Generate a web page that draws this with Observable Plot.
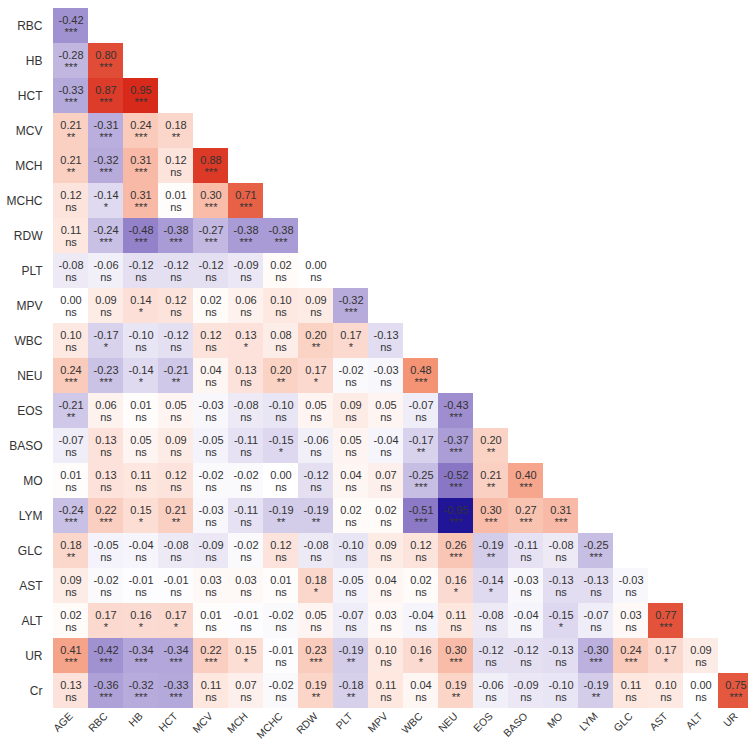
<!DOCTYPE html>
<html>
<head>
<meta charset="utf-8">
<script src="https://cdn.jsdelivr.net/npm/d3@7"></script>
<script src="https://cdn.jsdelivr.net/npm/@observablehq/plot@0.6"></script>
<style>
  html, body { margin: 0; padding: 0; background: #fff; overflow: hidden; }
  #chart svg { display: block; overflow: hidden; }
</style>
</head>
<body>
<div id="chart"></div>
<script>
const rowLabels = ["RBC","HB","HCT","MCV","MCH","MCHC","RDW","PLT","MPV","WBC","NEU","EOS","BASO","MO","LYM","GLC","AST","ALT","UR","Cr"];
const colLabels = ["AGE","RBC","HB","HCT","MCV","MCH","MCHC","RDW","PLT","MPV","WBC","NEU","EOS","BASO","MO","LYM","GLC","AST","ALT","UR"];

const corr = [
  [-0.42],
  [-0.28, 0.80],
  [-0.33, 0.87, 0.95],
  [0.21, -0.31, 0.24, 0.18],
  [0.21, -0.32, 0.31, 0.12, 0.88],
  [0.12, -0.14, 0.31, 0.01, 0.30, 0.71],
  [0.11, -0.24, -0.48, -0.38, -0.27, -0.38, -0.38],
  [-0.08, -0.06, -0.12, -0.12, -0.12, -0.09, 0.02, 0.00],
  [0.00, 0.09, 0.14, 0.12, 0.02, 0.06, 0.10, 0.09, -0.32],
  [0.10, -0.17, -0.10, -0.12, 0.12, 0.13, 0.08, 0.20, 0.17, -0.13],
  [0.24, -0.23, -0.14, -0.21, 0.04, 0.13, 0.20, 0.17, -0.02, -0.03, 0.48],
  [-0.21, 0.06, 0.01, 0.05, -0.03, -0.08, -0.10, 0.05, 0.09, 0.05, -0.07, -0.43],
  [-0.07, 0.13, 0.05, 0.09, -0.05, -0.11, -0.15, -0.06, 0.05, -0.04, -0.17, -0.37, 0.20],
  [0.01, 0.13, 0.11, 0.12, -0.02, -0.02, 0.00, -0.12, 0.04, 0.07, -0.25, -0.52, 0.21, 0.40],
  [-0.24, 0.22, 0.15, 0.21, -0.03, -0.11, -0.19, -0.19, 0.02, 0.02, -0.51, -0.95, 0.30, 0.27, 0.31],
  [0.18, -0.05, -0.04, -0.08, -0.09, -0.02, 0.12, -0.08, -0.10, 0.09, 0.12, 0.26, -0.19, -0.11, -0.08, -0.25],
  [0.09, -0.02, -0.01, -0.01, 0.03, 0.03, 0.01, 0.18, -0.05, 0.04, 0.02, 0.16, -0.14, -0.03, -0.13, -0.13, -0.03],
  [0.02, 0.17, 0.16, 0.17, 0.01, -0.01, -0.02, 0.05, -0.07, 0.03, -0.04, 0.11, -0.08, -0.04, -0.15, -0.07, 0.03, 0.77],
  [0.41, -0.42, -0.34, -0.34, 0.22, 0.15, -0.01, 0.23, -0.19, 0.10, 0.16, 0.30, -0.12, -0.12, -0.13, -0.30, 0.24, 0.17, 0.09],
  [0.13, -0.36, -0.32, -0.33, 0.11, 0.07, -0.02, 0.19, -0.18, 0.11, 0.04, 0.19, -0.06, -0.09, -0.10, -0.19, 0.11, 0.10, 0.00, 0.75]
];

const signif = [
  ["***"],
  ["***","***"],
  ["***","***","***"],
  ["**","***","***","**"],
  ["**","***","***","ns","***"],
  ["ns","*","***","ns","***","***"],
  ["ns","***","***","***","***","***","***"],
  ["ns","ns","ns","ns","ns","ns","ns","ns"],
  ["ns","ns","*","ns","ns","ns","ns","ns","***"],
  ["ns","*","ns","ns","ns","*","ns","**","*","ns"],
  ["***","***","*","**","ns","ns","**","*","ns","ns","***"],
  ["**","ns","ns","ns","ns","ns","ns","ns","ns","ns","ns","***"],
  ["ns","ns","ns","ns","ns","ns","*","ns","ns","ns","**","***","**"],
  ["ns","ns","ns","ns","ns","ns","ns","ns","ns","ns","***","***","**","***"],
  ["***","***","*","**","ns","ns","**","**","ns","ns","***","***","***","***","***"],
  ["**","ns","ns","ns","ns","ns","ns","ns","ns","ns","ns","***","**","ns","ns","***"],
  ["ns","ns","ns","ns","ns","ns","ns","*","ns","ns","ns","*","*","ns","ns","ns","ns"],
  ["ns","*","*","*","ns","ns","ns","ns","ns","ns","ns","ns","ns","ns","*","ns","ns","***"],
  ["***","***","***","***","***","*","ns","***","**","ns","*","***","ns","ns","ns","***","***","*","ns"],
  ["ns","***","***","***","ns","ns","ns","**","**","ns","ns","**","ns","ns","ns","**","ns","ns","ns","***"]
];

const cells = [];
rowLabels.forEach((row, i) => {
  corr[i].forEach((v, j) => {
    cells.push({row, col: colLabels[j], r: v, sig: signif[i][j]});
  });
});

const font = "'Liberation Sans', Arial, sans-serif";

const chart = Plot.plot({
  width: 748,
  height: 741,
  marginTop: 6,
  marginBottom: 32,
  marginLeft: 52,
  marginRight: 0,
  style: {fontFamily: font, background: "#fff"},
  x: {domain: colLabels, range: [52, 754], padding: 0, label: null},
  y: {domain: rowLabels, range: [6, 709], padding: 0, label: null},
  color: {
    type: "linear",
    domain: [-1, -0.5, 0, 0.5, 1],
    range: ["#150a92", "#8e7cc8", "#ffffff", "#f4906f", "#d41f10"],
    interpolate: "rgb"
  },
  marks: [
    Plot.cell(cells, {x: "col", y: "row", fill: "r", inset: 0}),
    Plot.text(cells, {x: "col", y: "row", text: d => d.r.toFixed(2), dy: -5.5, fontSize: 11, fill: "#333", fontFamily: font}),
    Plot.text(cells, {x: "col", y: "row", text: "sig", dy: 6, fontSize: 11, fill: "#333", fontFamily: font}),
    Plot.axisY({tickSize: 0, tickPadding: 10, fontSize: 12, color: "#333", label: null, fontFamily: font}),
    Plot.axisX({anchor: "bottom", tickSize: 0, tickPadding: 5, tickRotate: -45, fontSize: 10.5, color: "#333", label: null, fontFamily: font})
  ]
});

document.getElementById("chart").appendChild(chart);
</script>
</body>
</html>
